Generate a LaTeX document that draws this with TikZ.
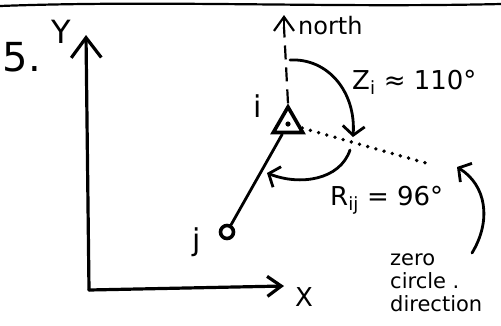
\documentclass[tikz,border=0pt]{standalone}
\usepackage{fontspec}
\setmainfont{DejaVu Sans}
\usetikzlibrary{arrows.meta,shapes.geometric}
\begin{document}
\begin{tikzpicture}[x=1pt,y=-1pt,
  ink/.style={line width=2.8pt, line cap=round, line join=round},
  lbl/.style={inner sep=0pt, text=black},
  bighead/.style={-{Straight Barb[length=20pt,width=30pt]}},
  midhead/.style={-{Straight Barb[length=14pt,width=20pt]}},
  archead/.style={-{Straight Barb[length=9pt,width=22pt]}},
  dots/.style={line width=3.8pt, line cap=round, dash pattern=on 0pt off 8.5pt}
]
\useasboundingbox (0,0) rectangle (501,325);
% top rule
\draw[ink, line width=2.2pt] (0,6) .. controls (160,0) and (330,8) .. (501,4);
% labels
\node[lbl, font=\fontsize{40}{40}\selectfont] (five) at (22,57) {5.};
\node[lbl, font=\fontsize{32}{32}\selectfont] (ylab) at (61,32) {Y};
\node[lbl, font=\fontsize{26}{26}\selectfont] (xlab) at (304,297) {X};
% axes
\coordinate (origin) at (89,290);
\coordinate (ytip) at (86,35);
\coordinate (xtip) at (284,286);
\draw[ink, line width=3.2pt, bighead] (origin) -- (ytip);
\draw[ink, line width=3.2pt, midhead] (origin) -- (xtip);
% station i and point j
\node[draw, regular polygon, regular polygon sides=3, minimum size=34pt,
      inner sep=0pt, line width=3.6pt] (i) at (288,124) {};
\fill (i.center) circle (2.6);
\node[draw, circle, minimum size=13pt, inner sep=0pt, line width=3.6pt] (j) at (227,232) {};
\draw[ink] (i) -- (j);
\node[lbl, font=\fontsize{30}{30}\selectfont] (ilab) at (258,106) {i};
\node[lbl, font=\fontsize{30}{30}\selectfont] (jlab) at (197,242) {j};
% north
\coordinate (ntip) at (284,15);
\coordinate (nbase) at (284,27);
\draw[line width=2.2pt, line cap=butt, dash pattern=on 14pt off 8pt] (i.north) -- (nbase);
\draw[ink, line width=2.2pt, midhead] (nbase) -- (ntip);
\node[lbl, anchor=west, font=\fontsize{24}{24}\selectfont] (nlab) at (298,26) {north};
% zero direction (dotted)
\coordinate (dend) at (433,165);
\draw[dots] (i) -- (dend);
% Z arc
\coordinate (zs) at (290,60);
\coordinate (ze) at (353,137);
\draw[ink, archead] (zs) .. controls (328,58) and (356,92) .. (ze);
\node[lbl, anchor=west, font=\fontsize{26}{26}\selectfont] (zlab) at (352,82) {Z\textsubscript{i} ≈ 110°};
% R arc
\coordinate (rs) at (350,150);
\coordinate (re) at (267,173);
\draw[ink, archead] (rs) .. controls (340,180) and (300,186) .. (re);
\node[lbl, anchor=west, font=\fontsize{26}{26}\selectfont] (rlab) at (330,200) {R\textsubscript{ij} = 96°};
% zero circle direction
\coordinate (zeros) at (472,253);
\coordinate (zerot) at (457,167);
\draw[ink, archead] (zeros) .. controls (492,220) and (486,185) .. (zerot);
\node[lbl, anchor=north west, align=left, font=\fontsize{21}{23}\selectfont] (zcd) at (390,254) {zero\\circle .\\direction};
\end{tikzpicture}
\end{document}
